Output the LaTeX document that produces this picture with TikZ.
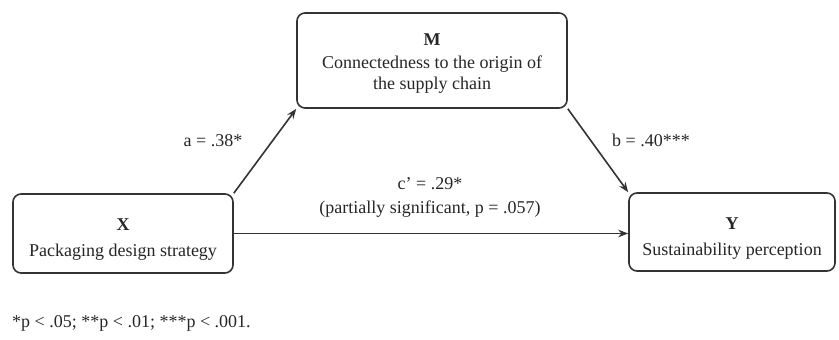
\documentclass[tikz,border=0pt]{standalone}
\usepackage{fontspec}
\setmainfont{Liberation Serif}
\usetikzlibrary{arrows.meta}

\tikzset{
  varbox/.style={draw=black!80, line width=1.6pt, rounded corners=8pt, fill=white, inner sep=0pt},
  boxtext/.style={align=center, inner sep=0pt, text=black!85, font=\fontsize{18}{21}\selectfont},
  pathlabel/.style={inner sep=0pt, text=black!85, font=\fontsize{18}{24}\selectfont, align=center},
  effect/.style={draw=black!80, line width=1.6pt, -{Stealth[length=10pt,width=7.5pt]}}
}

\begin{document}
\begin{tikzpicture}[x=1pt, y=-1pt]

  %% ==== variable boxes ====
  \node[varbox, minimum width=220pt, minimum height=79pt] (X) at (123.0,233.5) {};
  \node[varbox, minimum width=270pt, minimum height=95pt] (M) at (432.0,60.5) {};
  \node[varbox, minimum width=206pt, minimum height=78pt] (Y) at (732.0,232.0) {};

  \node[boxtext] (Xtext) at ([yshift=-6.5pt]X.center) {\textbf{X}\\[5pt]Packaging design strategy};
  \node[boxtext] (Mtext) at ([yshift=-3pt]M.center) {\textbf{M}\\[2pt]Connectedness to the origin of\\the supply chain};
  \node[boxtext] (Ytext) at ([yshift=-6.5pt]Y.center) {\textbf{Y}\\[5pt]Sustainability perception};

  %% ==== paths ====
  \draw[effect] (X.north east) -- (M.south west);
  \draw[effect] (M.south east) -- (Y.north west);
  \draw[effect] (X.east) -- (X.east -| Y.west);

  %% ==== coefficients ====
  \node[pathlabel] (a) at (213.0,141.0) {a = .38*};
  \node[pathlabel] (b) at (651.0,140.0) {b = .40***};
  \node[pathlabel] (c) at (430.0,197.0) {c' = .29*\\(partially significant, p = .057)};

  %% ==== note ====
  \node[pathlabel, anchor=west] (note) at (12.0,323.0) {*p < .05; **p < .01; ***p < .001.};

  \pgfresetboundingbox
  \path[use as bounding box] (0,0) rectangle (839,340);
\end{tikzpicture}
\end{document}
